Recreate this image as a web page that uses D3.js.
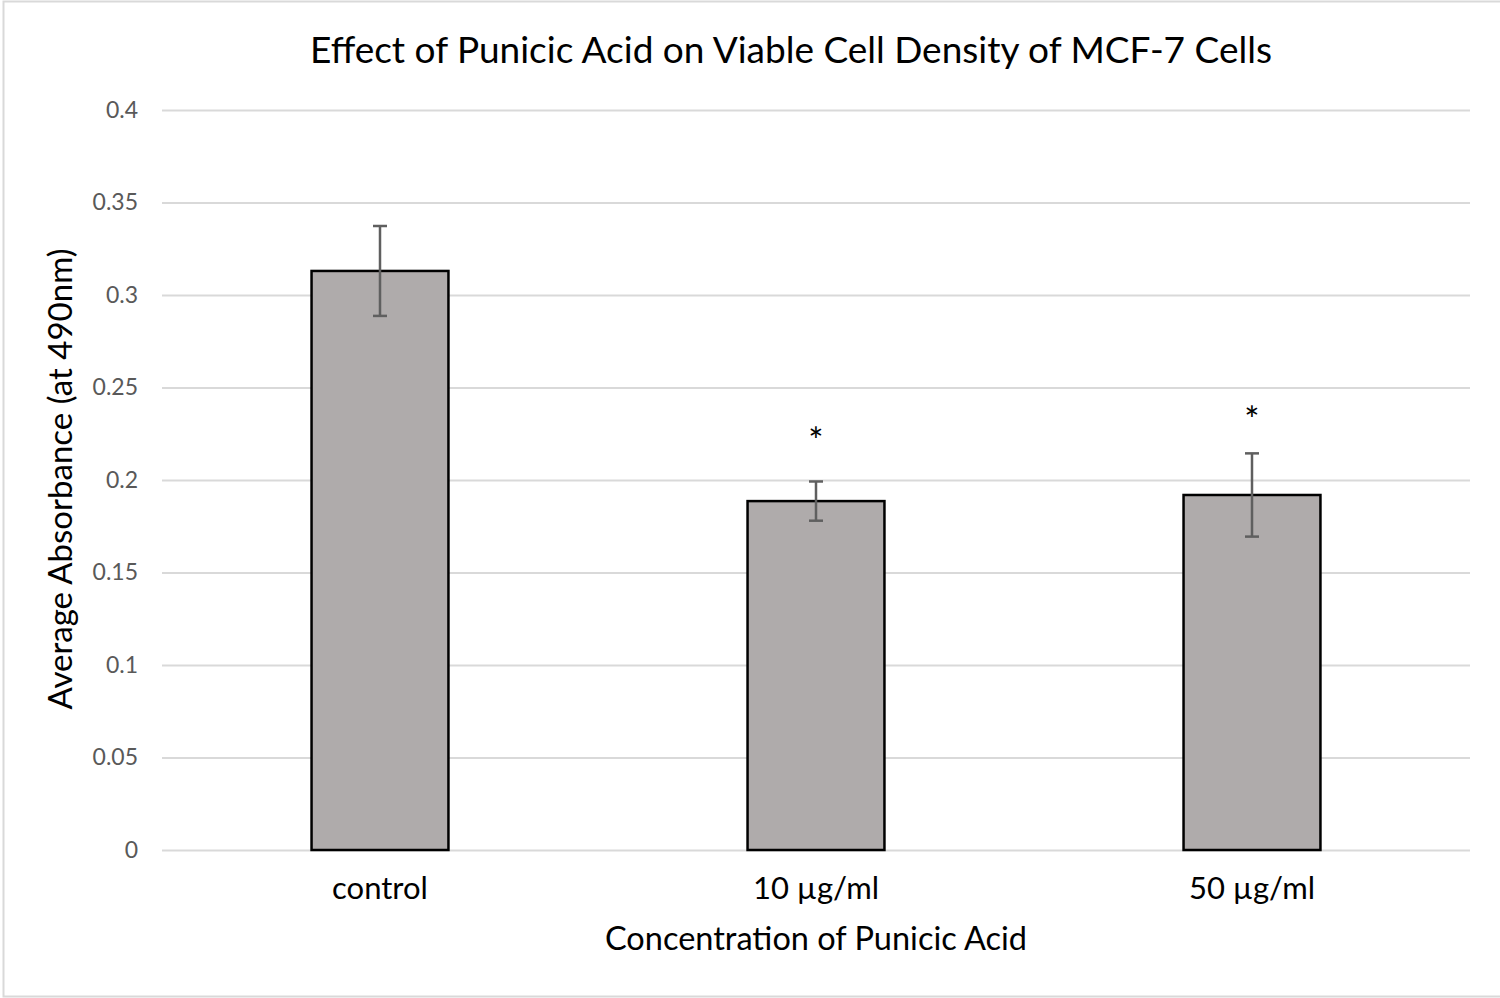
<!DOCTYPE html>
<html>
<head>
<meta charset="utf-8">
<script src="https://cdn.jsdelivr.net/npm/d3@7/dist/d3.min.js"></script>
<style>
  body { margin: 0; background: #fff; }
  text { font-family: Lato, "Open Sans", sans-serif; }
</style>
</head>
<body>
<svg id="chart" width="1500" height="998"></svg>
<script>
  // values
  const categories = ['control', '10 µg/ml', '50 µg/ml'];
  const means = [0.313, 0.1886, 0.1919];
  const errors = [0.0243, 0.0106, 0.0225];
  const marks = ['', '*', '*'];
  const markAt = [null, 0.2254, 0.2368];
  const yTicks = [0, 0.05, 0.1, 0.15, 0.2, 0.25, 0.3, 0.35, 0.4];

  const svg = d3.select('#chart');
  const plotL = 162, plotR = 1470, plotT = 110, plotB = 850;

  // light frame round the chart area
  svg.append('rect')
      .attr('x', 3.5).attr('y', 1.5)
      .attr('width', 1500).attr('height', 995)
      .attr('fill', 'none')
      .attr('stroke', '#d9d9d9')
      .attr('stroke-width', 2);

  const x = d3.scaleBand().domain(categories).range([plotL, plotR]).paddingInner(0).paddingOuter(0);
  const y = d3.scaleLinear().domain([0, 0.4]).range([plotB, plotT]);
  const barW = x.bandwidth() * 0.314;

  // gridlines + tick labels
  const yAxis = d3.axisLeft(y)
      .tickValues(yTicks)
      .tickSize(-(plotR - plotL))
      .tickPadding(24)
      .tickFormat(d => String(+d.toFixed(2)));

  const gy = svg.append('g').attr('transform', 'translate(' + plotL + ',0)').call(yAxis);
  gy.select('.domain').remove();
  gy.selectAll('.tick line').attr('stroke', '#d9d9d9').attr('stroke-width', 2);
  gy.selectAll('.tick text')
      .attr('fill', '#595959')
      .style('font-size', '23px');

  // bars
  svg.append('g').selectAll('rect')
      .data(means)
      .join('rect')
      .attr('x', (d, i) => x(categories[i]) + x.bandwidth() / 2 - barW / 2)
      .attr('y', d => y(d))
      .attr('width', barW)
      .attr('height', d => y(0) - y(d))
      .attr('fill', '#afabab')
      .attr('stroke', '#000')
      .attr('stroke-width', 2.5);

  // error bars
  const eb = svg.append('g').attr('stroke', '#5f5f5f').attr('stroke-width', 2.5);
  means.forEach((m, i) => {
    const cx = x(categories[i]) + x.bandwidth() / 2;
    const hi = y(m + errors[i]), lo = y(m - errors[i]);
    eb.append('line').attr('x1', cx).attr('x2', cx).attr('y1', hi).attr('y2', lo);
    eb.append('line').attr('x1', cx - 7).attr('x2', cx + 7).attr('y1', hi).attr('y2', hi);
    eb.append('line').attr('x1', cx - 7).attr('x2', cx + 7).attr('y1', lo).attr('y2', lo);
  });

  // significance marks
  svg.append('g').selectAll('text')
      .data(marks)
      .join('text')
      .attr('x', (d, i) => x(categories[i]) + x.bandwidth() / 2)
      .attr('y', (d, i) => markAt[i] == null ? 0 : y(markAt[i]) + 21)
      .attr('text-anchor', 'middle')
      .style('font-size', '36px')
      .attr('fill', '#000')
      .text(d => d);

  // category labels
  const xAxis = d3.axisBottom(x).tickSize(0).tickPadding(27);
  const gx = svg.append('g').attr('transform', 'translate(0,' + plotB + ')').call(xAxis);
  gx.select('.domain').remove();
  gx.selectAll('.tick text')
      .attr('fill', '#000')
      .style('font-size', '31px');

  // titles
  svg.append('text')
      .attr('x', 791).attr('y', 63)
      .attr('text-anchor', 'middle')
      .style('font-size', '37px')
      .attr('fill', '#000')
      .text('Effect of Punicic Acid on Viable Cell Density of MCF-7 Cells');

  svg.append('text')
      .attr('x', 816).attr('y', 950)
      .attr('text-anchor', 'middle')
      .style('font-size', '32.5px')
      .attr('fill', '#000')
      .text('Concentration of Punicic Acid');

  svg.append('text')
      .attr('transform', 'translate(72,479) rotate(-90)')
      .attr('text-anchor', 'middle')
      .style('font-size', '33px')
      .attr('fill', '#000')
      .text('Average Absorbance (at 490nm)');
</script>
</body>
</html>
